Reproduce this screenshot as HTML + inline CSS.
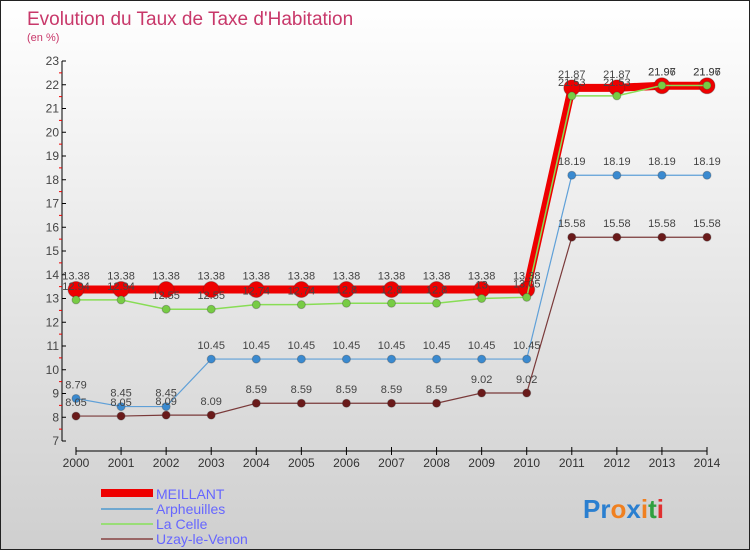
<!DOCTYPE html>
<html><head><meta charset="utf-8"><style>
body{margin:0;width:750px;height:550px;overflow:hidden;font-family:"Liberation Sans",sans-serif}
#wrap{position:relative;width:748px;height:548px;border:1px solid #222;background:linear-gradient(#ffffff,#cfcfcf)}
svg{position:absolute;left:0;top:0}
</style></head><body>
<div id="wrap">
<svg id="chart" width="750" height="550">
<text x="26" y="24" font-size="19" fill="#c8386a">Evolution du Taux de Taxe d'Habitation</text>
<text x="26" y="40" font-size="11" fill="#c8386a">(en %)</text>
<g id="axes"></g><g id="series"></g><g id="labels"></g>
<g>
<rect x="100" y="488" width="52" height="8" fill="#ee0000"/>
<text x="155" y="498" font-size="14" fill="#6666ff">MEILLANT</text>
<rect x="100" y="507" width="52" height="2" fill="#6fa8d0"/>
<text x="155" y="513" font-size="14" fill="#6666ff">Arpheuilles</text>
<rect x="100" y="522" width="52" height="2" fill="#99dd77"/>
<text x="155" y="528" font-size="14" fill="#6666ff">La Celle</text>
<rect x="100" y="537" width="52" height="2" fill="#996666"/>
<text x="155" y="543" font-size="14" fill="#6666ff">Uzay-le-Venon</text>
</g>
<text x="582" y="517" font-size="26" font-weight="bold"><tspan fill="#2a7fd0">Pr</tspan><tspan fill="#f08020">o</tspan><tspan fill="#2a7fd0">x</tspan><tspan fill="#f08020">i</tspan><tspan fill="#30a040">t</tspan><tspan fill="#e03030">i</tspan></text>
</svg></div>
<script>
const years=[2000,2001,2002,2003,2004,2005,2006,2007,2008,2009,2010,2011,2012,2013,2014];
const yTicks=[7,8,9,10,11,12,13,14,15,16,17,18,19,20,21,22,23];
const meillant=[13.38,13.38,13.38,13.38,13.38,13.38,13.38,13.38,13.38,13.38,13.38,21.87,21.87,21.96,21.96];
const arpheuilles=[8.79,8.45,8.45,10.45,10.45,10.45,10.45,10.45,10.45,10.45,10.45,18.19,18.19,18.19,18.19];
const laCelle=[12.94,12.94,12.55,12.55,12.74,12.74,12.8,12.8,12.8,13,13.05,21.53,21.53,21.97,21.97];
const uzay=[8.05,8.05,8.09,8.09,8.59,8.59,8.59,8.59,8.59,9.02,9.02,15.58,15.58,15.58,15.58];
const NS='http://www.w3.org/2000/svg';
const xS=i=>75+i*(706-75)/14;
const yS=v=>440-(v-7)*(380/16);
function mk(t,a,p){const e=document.createElementNS(NS,t);for(const k in a)e.setAttribute(k,a[k]);p.appendChild(e);return e;}
const ax=document.getElementById('axes');
let e=mk('line',{x1:61,y1:yS(23),x2:61,y2:yS(7),stroke:'#000'},ax);


e=mk('line',{x1:75,y1:450,x2:706,y2:450,stroke:'#000'},ax);


yTicks.forEach(v=>{mk('line',{x1:61,y1:yS(v),x2:65,y2:yS(v),stroke:'#000'},ax);
 if(v<23)mk('line',{x1:58,y1:yS(v+0.5),x2:61,y2:yS(v+0.5),stroke:'#e00'},ax);
 const t=mk('text',{x:58,y:yS(v)+4,'font-size':12,fill:'#444','text-anchor':'end'},ax);t.textContent=v;
 
 });
years.forEach((y,i)=>{mk('line',{x1:xS(i),y1:446,x2:xS(i),y2:454,stroke:'#000'},ax);
 const t=mk('text',{x:xS(i),y:466,'font-size':12,fill:'#333','text-anchor':'middle'},ax);t.textContent=y;
 
 });
const sg=document.getElementById('series'),lg=document.getElementById('labels');
function series(d,name,col,w,r,fill){
 const p=mk('polyline',{points:d.map((v,i)=>xS(i)+','+yS(v)).join(' '),fill:'none',stroke:col,'stroke-width':w},sg);
 
 
 d.forEach((v,i)=>{const c=mk('circle',{cx:xS(i),cy:yS(v),r:r,fill:fill,stroke:'#333','stroke-opacity':0.3},sg);
  
  
  const t=mk('text',{x:xS(i),y:yS(v)-10,'font-size':11,fill:'#444','text-anchor':'middle'},lg);t.textContent=v;
  
  });
}
series(uzay,'uzay','#7a3a3a',1.2,4,'#6a1a1a');
series(arpheuilles,'arpheuilles','#5fa0d8',1.2,4,'#3a8ad0');
series(meillant,'meillant','#ee0000',8,8,'#ee0000');
series(laCelle,'la-celle','#88dd55',1.5,4,'#77cc44');
</script>
</body></html>
